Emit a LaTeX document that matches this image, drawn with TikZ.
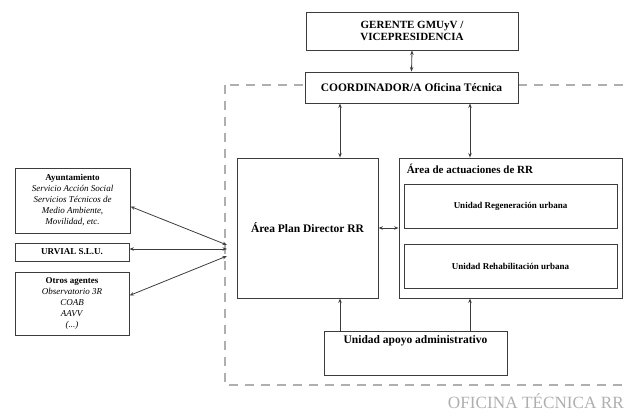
\documentclass[tikz,border=0pt]{standalone}
\usepackage{fontspec}
\setmainfont{Liberation Serif}
\usepackage{xcolor}
\usepackage{tikz}
\usetikzlibrary{calc,arrows.meta}
\definecolor{framegray}{RGB}{175, 175, 175}
\definecolor{linedark}{RGB}{60, 60, 60}

\begin{document}
\begin{tikzpicture}[x=1pt, y=-1pt, >={Stealth[length=4.5pt,width=3.4pt]}]
  \tikzset{
    box/.style={draw=linedark, fill=white, line width=0.9pt, align=center, inner sep=2pt},
    link/.style={<->, line width=0.8pt, linedark},
    uplink/.style={->, line width=0.8pt, linedark}
  }
  \useasboundingbox (0,0) rectangle (626,411);
  \clip (0,0) rectangle (626,411);

  % oficina tecnica frame
  \draw[framegray, line width=2pt, dash pattern=on 9pt off 7pt] (225,85) rectangle (660,385);
  \node[framegray, font=\fontsize{17.2}{20}\selectfont, anchor=base east, inner sep=0pt] (oficina) at (624,408) {OFICINA TÉCNICA RR};

  % top boxes
  \node[box, minimum width=212, minimum height=38, font=\bfseries\fontsize{11}{12.5}\selectfont] (gerente) at (412,31) {GERENTE GMUyV /\\VICEPRESIDENCIA};
  \node[box, minimum width=213, minimum height=31, font=\bfseries\fontsize{11.5}{13}\selectfont] (coord) at (411.5,87.5) {COORDINADOR/A Oficina Técnica};

  % areas
  \node[box, minimum width=141, minimum height=140, font=\bfseries\fontsize{11.5}{13}\selectfont] (plan) at (307.5,228) {Área Plan Director RR};
  \node[box, minimum width=223, minimum height=140] (actu) at (510.5,228) {};
  \node[font=\bfseries\fontsize{11}{13}\selectfont, anchor=north west, inner sep=0pt] (actutitle) at ($(actu.north west)+(8,6)$) {Área de actuaciones de RR};
  \node[box, minimum width=213, minimum height=44, font=\bfseries\fontsize{9}{11}\selectfont] (rege) at (510.5,206) {Unidad Regeneración urbana};
  \node[box, minimum width=213, minimum height=44, font=\bfseries\fontsize{9}{11}\selectfont] (rehab) at (510.5,266) {Unidad Rehabilitación urbana};

  % apoyo
  \node[box, minimum width=183, minimum height=44] (apoyo) at (415.5,353) {};
  \node[font=\bfseries\fontsize{11.5}{13}\selectfont, anchor=north, inner sep=0pt] (apoyotxt) at ($(apoyo.north)+(0,5)$) {Unidad apoyo administrativo};

  % left agents
  \node[box, minimum width=115, minimum height=65, font=\fontsize{9}{11}\selectfont] (ayto) at (72.5,200.5) {\textbf{Ayuntamiento}\\\textit{Servicio Acción Social}\\\textit{Servicios Técnicos de}\\\textit{Medio Ambiente,}\\\textit{Movilidad, etc.}};
  \node[box, minimum width=114, minimum height=18, font=\bfseries\fontsize{9}{11}\selectfont] (urvial) at (72,252) {URVIAL S.L.U.};
  \node[box, minimum width=114, minimum height=63, font=\fontsize{9}{11}\selectfont] (otros) at (72,303.5) {\textbf{Otros agentes}\\\textit{Observatorio 3R}\\\textit{COAB}\\\textit{AAVV}\\\textit{(...)}};

  % connectors
  \coordinate (colL) at (340,0);
  \coordinate (colR) at (470,0);
  \coordinate (hubA) at (227,245);
  \coordinate (hubB) at (227,249);
  \coordinate (hubC) at (227,256);
  \draw[link] (gerente.south) -- (coord.north);
  \draw[link] (coord.south -| colL) -- (plan.north -| colL);
  \draw[link] (coord.south -| colR) -- (actu.north -| colR);
  \draw[link] (plan.east) -- (actu.west);
  \draw[uplink] (apoyo.north -| colL) -- (plan.south -| colL);
  \draw[uplink] (apoyo.north -| colR) -- (actu.south -| colR);
  \draw[link] ([yshift=-6pt]ayto.east) -- (hubA);
  \draw[link] ([yshift=3pt]urvial.east) -- (hubB);
  \draw[link] ([yshift=8pt]otros.east) -- (hubC);
\end{tikzpicture}
\end{document}
